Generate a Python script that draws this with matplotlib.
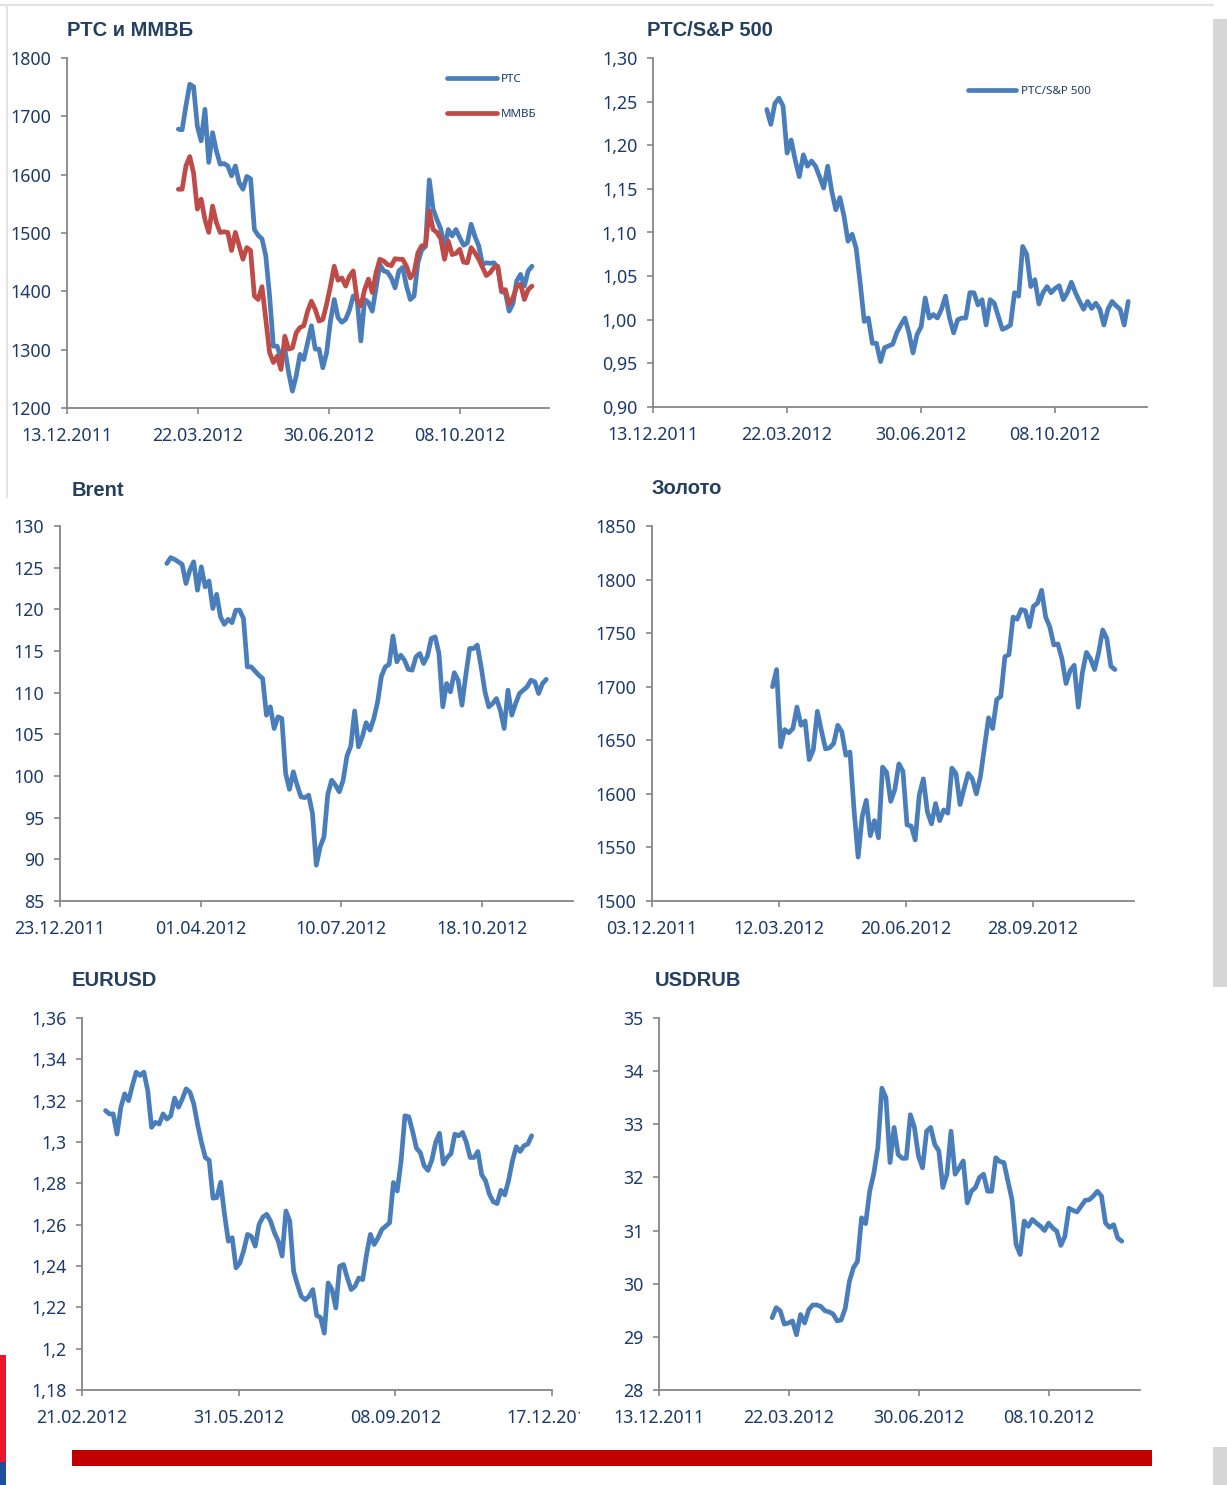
import numpy as np
import pandas as pd
import matplotlib
matplotlib.use('Agg')
import matplotlib.pyplot as plt
from matplotlib.patches import Rectangle
from matplotlib.lines import Line2D
from matplotlib.transforms import Bbox

plt.rcParams['font.family'] = ['Noto Sans', 'DejaVu Sans']

rts_start, rts_end = '2012-03-07', '2012-12-02'
rts = [1678, 1677, 1718, 1755, 1751, 1683, 1658, 1712, 1621, 1672,
       1641, 1618, 1619, 1615, 1598, 1615, 1586, 1575, 1597, 1593,
       1506, 1496, 1490, 1461, 1392, 1306, 1306, 1285, 1301, 1261,
       1229, 1255, 1292, 1283, 1312, 1341, 1301, 1301, 1269, 1295,
       1349, 1386, 1355, 1347, 1352, 1368, 1392, 1386, 1315, 1386,
       1381, 1366, 1406, 1446, 1435, 1433, 1423, 1406, 1435, 1441,
       1409, 1386, 1392, 1449, 1471, 1477, 1591, 1541, 1523, 1507,
       1475, 1506, 1495, 1506, 1492, 1479, 1483, 1515, 1494, 1478,
       1446, 1449, 1448, 1449, 1441, 1399, 1398, 1366, 1379, 1418,
       1429, 1409, 1435, 1443]
micex = [1575, 1575, 1615, 1631, 1603, 1541, 1558, 1523, 1501, 1546,
         1518, 1501, 1502, 1501, 1470, 1501, 1478, 1455, 1475, 1470,
         1392, 1386, 1408, 1352, 1295, 1278, 1289, 1266, 1323, 1301,
         1303, 1329, 1338, 1341, 1366, 1383, 1369, 1349, 1352, 1378,
         1409, 1443, 1419, 1423, 1409, 1426, 1435, 1386, 1375, 1403,
         1421, 1398, 1432, 1455, 1452, 1446, 1444, 1456, 1455, 1455,
         1443, 1423, 1432, 1466, 1478, 1479, 1538, 1506, 1501, 1490,
         1455, 1486, 1463, 1465, 1472, 1450, 1449, 1475, 1466, 1455,
         1441, 1427, 1432, 1441, 1443, 1401, 1403, 1378, 1389, 1408,
         1412, 1386, 1403, 1409]

spx_start, spx_end = '2012-03-07', '2012-12-02'
rts_spx = [1.241, 1.224, 1.248, 1.254, 1.245, 1.191, 1.206, 1.183, 1.164, 1.189,
           1.176, 1.182, 1.176, 1.164, 1.151, 1.176, 1.147, 1.126, 1.140, 1.119,
           1.090, 1.098, 1.082, 1.042, 0.998, 1.002, 0.973, 0.973, 0.952, 0.968,
           0.970, 0.972, 0.985, 0.994, 1.002, 0.985, 0.962, 0.983, 0.992, 1.025,
           1.002, 1.006, 1.002, 1.012, 1.027, 1.002, 0.985, 1.000, 1.002, 1.002,
           1.031, 1.031, 1.017, 1.023, 0.994, 1.023, 1.019, 1.004, 0.989, 0.991,
           0.994, 1.031, 1.027, 1.084, 1.075, 1.038, 1.046, 1.018, 1.031, 1.038,
           1.031, 1.036, 1.039, 1.023, 1.031, 1.043, 1.031, 1.021, 1.012, 1.021,
           1.013, 1.019, 1.012, 0.994, 1.012, 1.021, 1.016, 1.012, 0.994, 1.021]

brent_start, brent_end = '2012-03-08', '2012-12-03'
brent = [125.5, 126.2, 126.0, 125.7, 125.4, 123.1, 124.7, 125.7, 122.3, 125.1,
         122.7, 123.4, 120.1, 121.8, 119.1, 118.2, 118.8, 118.4, 119.9, 119.9,
         118.9, 113.1, 113.1, 112.6, 112.1, 111.7, 107.3, 108.3, 105.7, 107.1,
         106.9, 100.3, 98.4, 100.5, 98.9, 97.5, 97.4, 97.7, 95.5, 89.3,
         91.5, 92.7, 97.8, 99.5, 98.9, 98.1, 99.5, 102.4, 103.6, 107.8,
         103.5, 104.7, 106.4, 105.5, 106.9, 108.9, 112.0, 113.1, 113.4, 116.8,
         113.7, 114.5, 113.9, 112.8, 112.7, 114.3, 114.7, 113.5, 114.4, 116.5,
         116.7, 114.7, 108.3, 111.1, 110.1, 112.4, 111.5, 108.5, 112.1, 115.3,
         115.3, 115.7, 113.1, 110.1, 108.3, 108.7, 109.3, 107.9, 105.7, 110.3,
         107.3, 108.7, 109.9, 110.3, 110.7, 111.5, 111.3, 109.9, 111.1, 111.6]

gold_start, gold_end = '2012-03-07', '2012-12-02'
gold = [1700, 1716, 1644, 1660, 1657, 1661, 1681, 1664, 1668, 1632,
        1641, 1677, 1659, 1642, 1643, 1647, 1664, 1658, 1636, 1639,
        1585, 1541, 1579, 1594, 1561, 1575, 1559, 1625, 1620, 1593,
        1604, 1628, 1621, 1571, 1570, 1557, 1599, 1614, 1583, 1572,
        1591, 1575, 1585, 1582, 1624, 1619, 1590, 1605, 1619, 1614,
        1600, 1616, 1644, 1671, 1661, 1688, 1691, 1728, 1730, 1765,
        1763, 1772, 1771, 1756, 1775, 1778, 1790, 1765, 1756, 1739,
        1740, 1726, 1703, 1715, 1720, 1681, 1713, 1732, 1726, 1716,
        1732, 1753, 1745, 1719, 1716]

eur_start, eur_end = '2012-03-07', '2012-12-04'
eurusd = [1.3152, 1.3136, 1.3136, 1.3038, 1.3168, 1.3233, 1.3200, 1.3273, 1.3338, 1.3322,
          1.3338, 1.3249, 1.3071, 1.3095, 1.3087, 1.3136, 1.3111, 1.3127, 1.3213, 1.3168,
          1.3208, 1.3257, 1.3241, 1.3184, 1.3084, 1.2998, 1.2925, 1.2912, 1.2728, 1.2731,
          1.2805, 1.2650, 1.2520, 1.2537, 1.2391, 1.2415, 1.2475, 1.2553, 1.2543, 1.2496,
          1.2601, 1.2637, 1.2650, 1.2617, 1.2561, 1.2520, 1.2448, 1.2666, 1.2617, 1.2375,
          1.2310, 1.2253, 1.2237, 1.2253, 1.2286, 1.2161, 1.2151, 1.2075, 1.2318, 1.2286,
          1.2197, 1.2399, 1.2407, 1.2342, 1.2286, 1.2302, 1.2342, 1.2334, 1.2456, 1.2553,
          1.2504, 1.2537, 1.2577, 1.2593, 1.2609, 1.2804, 1.2763, 1.2909, 1.3127, 1.3122,
          1.3051, 1.2970, 1.2949, 1.2885, 1.2863, 1.2912, 1.2998, 1.3042, 1.2893, 1.2925,
          1.2944, 1.3038, 1.3030, 1.3046, 1.2998, 1.2925, 1.2925, 1.2954, 1.2841, 1.2812,
          1.2747, 1.2711, 1.2702, 1.2766, 1.2744, 1.2815, 1.2909, 1.2977, 1.2954, 1.2982,
          1.2990, 1.3030]

rub_start, rub_end = '2012-03-09', '2012-12-03'
usdrub = [29.36, 29.55, 29.49, 29.24, 29.26, 29.30, 29.04, 29.42, 29.26, 29.51,
          29.60, 29.60, 29.57, 29.49, 29.47, 29.43, 29.30, 29.32, 29.54, 30.04,
          30.30, 30.42, 31.24, 31.13, 31.74, 32.07, 32.56, 33.68, 33.50, 32.28,
          32.94, 32.43, 32.36, 32.36, 33.18, 32.94, 32.40, 32.18, 32.87, 32.94,
          32.62, 32.50, 31.81, 32.06, 32.87, 32.06, 32.18, 32.31, 31.52, 31.74,
          31.81, 32.00, 32.06, 31.74, 31.74, 32.37, 32.30, 32.28, 31.93, 31.58,
          30.74, 30.55, 31.18, 31.08, 31.21, 31.14, 31.08, 31.00, 31.14, 31.05,
          30.99, 30.72, 30.89, 31.42, 31.38, 31.35, 31.46, 31.57, 31.58, 31.65,
          31.74, 31.65, 31.14, 31.06, 31.11, 30.86, 30.80]

W, H = 1227, 1485
BLUE = '#4A7EBB'
RED = '#BE4B48'
NAVY = '#243F60'
TICKC = '#1B3A6B'
AXIS = '#868686'

fig = plt.figure(figsize=(W / 100, H / 100), dpi=100)


def make_axes(l, t, r, b):
    return fig.add_axes([l / W, 1 - b / H, (r - l) / W, (b - t) / H])


def dates(start, end, values):
    return pd.date_range(start, end, periods=len(values))


def setup(ax, tick0, xmax, ylo, yhi, ystep, fmt):
    for s in ['top', 'right']:
        ax.spines[s].set_visible(False)
    for s in ['left', 'bottom']:
        ax.spines[s].set_color(AXIS)
        ax.spines[s].set_linewidth(1.3)
    t0 = pd.Timestamp(tick0)
    ticks = [t0 + pd.Timedelta(days=100 * k) for k in range(4)]
    ax.set_xlim(t0, pd.Timestamp(xmax))
    ax.set_xticks(ticks)
    ax.set_xticklabels([t.strftime('%d.%m.%Y') for t in ticks])
    n = int(round((yhi - ylo) / ystep)) + 1
    yt = np.linspace(ylo, yhi, n)
    ax.set_ylim(ylo, yhi)
    ax.set_yticks(yt)
    ax.set_yticklabels([fmt(v) for v in yt])
    ax.tick_params(axis='both', colors=AXIS, labelcolor=TICKC, labelsize=12.8,
                   length=4.3, width=1.2, direction='out')
    ax.tick_params(axis='x', pad=9.5)
    ax.tick_params(axis='y', pad=7)


def title(x, y, text):
    fig.text(x / W, 1 - y / H, text, fontsize=14.5, fontweight='bold',
             family=['Liberation Sans', 'DejaVu Sans'],
             color=NAVY, ha='left', va='center')


def line(ax, d, v, color, label=None):
    ax.plot(d, v, color=color, lw=3.4, solid_joinstyle='round',
            solid_capstyle='round', label=label)


int_fmt = lambda v: f'{v:.0f}'

# РТС и ММВБ
ax1 = make_axes(67, 58, 549, 408)
line(ax1, dates(rts_start, rts_end, rts), rts, BLUE, 'РТС')
line(ax1, dates(rts_start, rts_end, micex), micex, RED, 'ММВБ')
setup(ax1, '2011-12-13', '2012-12-15', 1200, 1800, 100, int_fmt)
ax1.legend(loc='upper left', bbox_to_anchor=(447 / W, 1 - 74 / H),
           bbox_transform=fig.transFigure, frameon=False, fontsize=8.3,
           handlelength=4.3, handletextpad=0.4, labelspacing=2.1,
           borderaxespad=0, borderpad=0, labelcolor=TICKC)
title(67, 30, 'РТС и ММВБ')

# РТС/S&P 500
ax2 = make_axes(653, 58, 1147, 407)
line(ax2, dates(spx_start, spx_end, rts_spx), rts_spx, BLUE, 'РТС/S&P 500')
setup(ax2, '2011-12-13', '2012-12-16', 0.90, 1.30, 0.05,
      lambda v: f'{v:.2f}'.replace('.', ','))
ax2.legend(loc='upper left', bbox_to_anchor=(968 / W, 1 - 86 / H),
           bbox_transform=fig.transFigure, frameon=False, fontsize=8.3,
           handlelength=4.2, handletextpad=0.4, borderaxespad=0,
           borderpad=0, labelcolor=TICKC)
title(647, 30, 'РТС/S&P 500')

# Brent
ax3 = make_axes(60, 526, 573, 901)
line(ax3, dates(brent_start, brent_end, brent), brent, BLUE)
setup(ax3, '2011-12-23', '2012-12-22', 85, 130, 5, int_fmt)
title(72, 490, 'Brent')

# Золото
ax4 = make_axes(652, 526, 1134, 901)
line(ax4, dates(gold_start, gold_end, gold), gold, BLUE)
setup(ax4, '2011-12-03', '2012-12-17', 1500, 1850, 50, int_fmt)
title(652, 488, 'Золото')

# EURUSD
ax5 = make_axes(82, 1018, 552, 1390)
line(ax5, dates(eur_start, eur_end, eurusd), eurusd, BLUE)
setup(ax5, '2012-02-21', '2012-12-17', 1.18, 1.36, 0.02,
      lambda v: f'{round(v, 2):g}'.replace('.', ','))
title(72, 980, 'EURUSD')
clip = Bbox.from_extents(0, 0, 580, H)
for lab in ax5.get_xticklabels():
    lab.set_clip_on(True)
    lab.set_clip_box(clip)

# USDRUB
ax6 = make_axes(659, 1018, 1140, 1390)
line(ax6, dates(rub_start, rub_end, usdrub), usdrub, BLUE)
setup(ax6, '2011-12-13', '2012-12-17', 28, 35, 1, int_fmt)
title(655, 980, 'USDRUB')

# оформление страницы
fig.add_artist(Rectangle((72 / W, 1 - 1466 / H), 1080 / W, 16 / H,
                         transform=fig.transFigure, color='#C00000', lw=0))
fig.add_artist(Rectangle((1213 / W, 1 - 987 / H), 14 / W, 968 / H,
                         transform=fig.transFigure, color='#D6D6D6', lw=0))
fig.add_artist(Rectangle((1213 / W, 0), 14 / W, 38 / H,
                         transform=fig.transFigure, color='#D6D6D6', lw=0))
fig.add_artist(Rectangle((0, 1 - 1462 / H), 6 / W, 107 / H,
                         transform=fig.transFigure, color='#E8182B', lw=0))
fig.add_artist(Rectangle((0, 0), 6 / W, 23 / H,
                         transform=fig.transFigure, color='#1F4E9A', lw=0))
fig.add_artist(Line2D([0, 1213 / W], [1 - 5 / H, 1 - 5 / H],
                      transform=fig.transFigure, color='#E3E3E3', lw=1.5))
fig.add_artist(Line2D([7 / W, 7 / W], [1 - 5 / H, 1 - 497 / H],
                      transform=fig.transFigure, color='#E3E3E3', lw=1.5))

fig.savefig('out.png', dpi=100)
